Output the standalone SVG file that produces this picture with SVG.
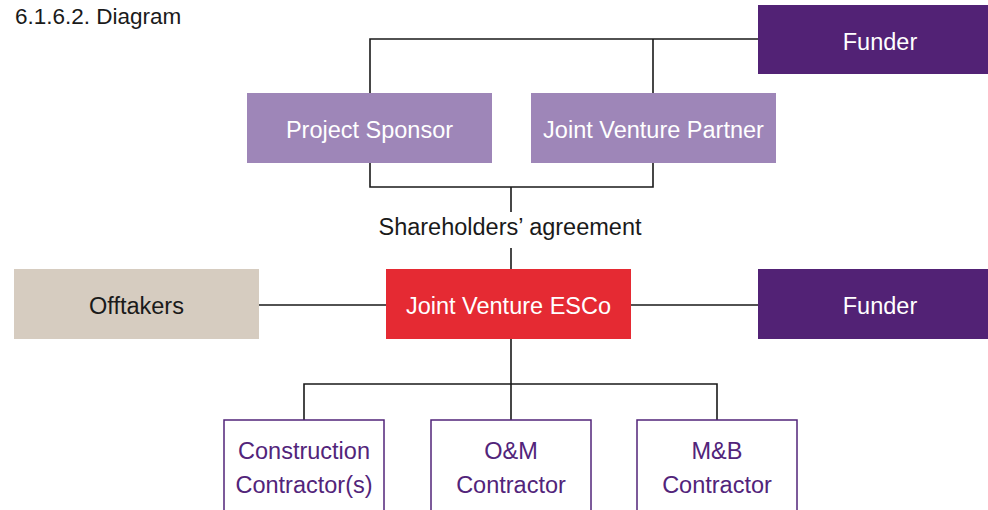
<svg xmlns="http://www.w3.org/2000/svg" width="988" height="510" viewBox="0 0 988 510">
<style>
text{font-family:"Liberation Sans",Arial,sans-serif;font-size:23.5px;text-anchor:middle}
.w{fill:#ffffff}
.k{fill:#1a1a1a}
.p{fill:#52247a}
.ln{stroke:#1a1a1a;stroke-width:1.6;fill:none}
.c{fill:#ffffff;stroke:#52247a;stroke-width:1.5}
</style>
<rect width="988" height="510" fill="#ffffff"/>
<text x="15" y="24" class="k" style="text-anchor:start;font-size:22.5px">6.1.6.2. Diagram</text>
<g id="connectors">
<path class="ln" d="M370 93V39H758M653 39V93"/>
<path class="ln" d="M370 163V187H653V163M511 187V212"/>
<path class="ln" d="M511 248V269"/>
<path class="ln" d="M259 305H386M631 305H758"/>
<path class="ln" d="M511 339V384M304 420V384H717V420M511 384V420"/>
</g>
<g id="funder-top"><rect x="758" y="5" width="244" height="69" fill="#522275"/><text x="880" y="50" class="w">Funder</text></g>
<g id="project-sponsor"><rect x="247" y="93" width="245" height="70" fill="#9e86b8"/><text x="369.5" y="138" class="w">Project Sponsor</text></g>
<g id="jv-partner"><rect x="531" y="93" width="245" height="70" fill="#9e86b8"/><text x="653.5" y="138" class="w">Joint Venture Partner</text></g>
<g id="agreement-label"><text x="510" y="235" class="k">Shareholders’ agreement</text></g>
<g id="offtakers"><rect x="14" y="269" width="245" height="70" fill="#d6ccc0"/><text x="136.5" y="314" class="k">Offtakers</text></g>
<g id="jv-esco"><rect x="386" y="269" width="245" height="70" fill="#e52a33"/><text x="508.5" y="314" class="w">Joint Venture ESCo</text></g>
<g id="funder-right"><rect x="758" y="269" width="244" height="70" fill="#522275"/><text x="880" y="314" class="w">Funder</text></g>
<g id="construction"><rect x="224" y="420" width="160" height="100" class="c"/><text x="304" y="459" class="p">Construction</text><text x="304" y="493" class="p">Contractor(s)</text></g>
<g id="om"><rect x="431" y="420" width="160" height="100" class="c"/><text x="511" y="459" class="p">O&amp;M</text><text x="511" y="493" class="p">Contractor</text></g>
<g id="mb"><rect x="637" y="420" width="160" height="100" class="c"/><text x="717" y="459" class="p">M&amp;B</text><text x="717" y="493" class="p">Contractor</text></g>
</svg>
